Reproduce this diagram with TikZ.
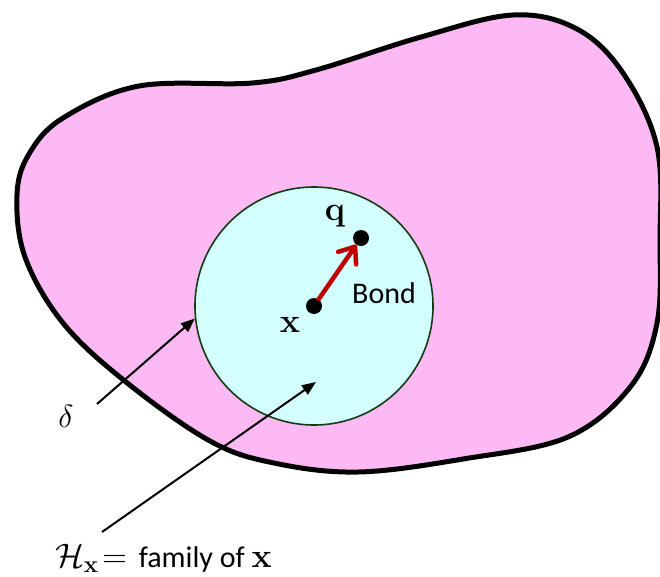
\RequirePackage{fix-cm}
\documentclass[tikz,border=0pt]{standalone}
\usepackage[no-math]{fontspec}
\setmainfont{Carlito}
\usetikzlibrary{arrows.meta}
\definecolor{blobpink}{RGB}{252,185,243}
\definecolor{famcyan}{RGB}{212,255,255}
\definecolor{rimgreen}{RGB}{20,60,20}
\definecolor{bondred}{RGB}{192,0,0}
\begin{document}
\begin{tikzpicture}[x=1pt,y=-1pt,
  blob/.style={fill=blobpink, draw=black, line width=5pt, line join=round},
  family/.style={circle, fill=famcyan, draw=rimgreen, line width=1.6pt, minimum size=238pt, inner sep=0pt},
  dot/.style={circle, fill=black, minimum size=16pt, inner sep=0pt},
  pointer/.style={line width=2pt, -{Triangle[length=14pt,width=11pt]}},
  bondarrow/.style={bondred, line width=4.5pt, line cap=round, -{Straight Barb[length=14pt,width=22pt,line cap=round,line join=round]}},
  mathlabel/.style={font=\fontsize{34}{40}\selectfont, inner sep=0pt},
  textlabel/.style={font=\fontsize{30}{36}\selectfont, inner sep=0pt}]
\clip (0,0) rectangle (660,576);
\draw[blob] plot[smooth cycle, tension=0.6] coordinates {
  (63,118) (139,86) (252,83) (316,70) (421,37) (513,15) (577,29) (623,73)
  (657,147) (660,240) (657,323) (631,386) (568,437) (463,459) (358,472)
  (274,463) (210,441) (126,382) (63,323) (25,257) (17,195) (29,154)};
\node[family] (fam) at (314,306) {};
\coordinate (dstart) at (97,404);
\coordinate (hstart) at (102,532);
\coordinate (hend) at (316,382);
\draw[pointer] (dstart) -- (fam.186);
\draw[pointer] (hstart) -- (hend);
\node[dot] (x) at (314,306) {};
\node[dot] (q) at (361,238) {};
\draw[bondarrow] (x) -- (q);
\node[mathlabel, anchor=base] (xl) at (290,332) {$\mathbf{x}$};
\node[mathlabel, anchor=base] (ql) at (335,220) {$\mathbf{q}$};
\node[textlabel, anchor=base west] (bond) at (352,303) {Bond};
\node[font=\fontsize{32}{38}\selectfont, inner sep=0pt, anchor=base] (dl) at (66,427) {$\delta$};
\node[anchor=base west, inner sep=0pt] (hl) at (55,567) {\fontsize{34}{40}\selectfont$\mathcal{H}_{\mathbf{x}}\!=$\hspace{12pt}\fontsize{30}{36}\selectfont family of \fontsize{34}{40}\selectfont$\mathbf{x}$};
\end{tikzpicture}
\end{document}
